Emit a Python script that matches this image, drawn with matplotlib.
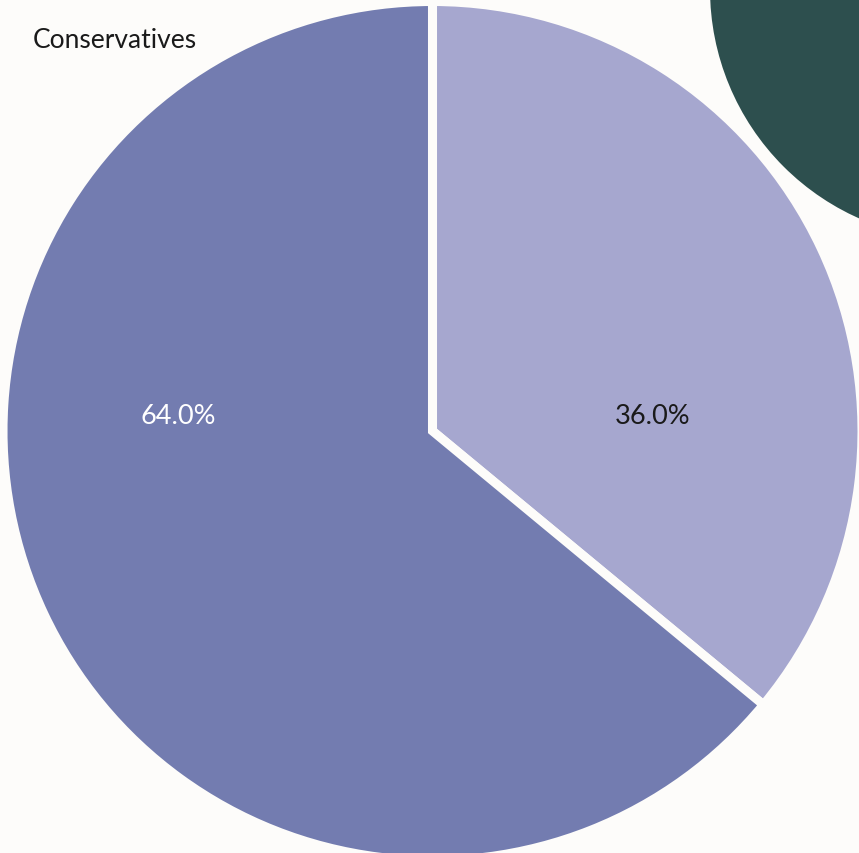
import matplotlib
matplotlib.use("Agg")
import matplotlib.pyplot as plt
from matplotlib.patches import Circle

# Data
categories = ["Yes", "No"]
shares = [36.0, 64.0]
slice_colors = ["#a6a7cf", "#737cb0"]
label_colors = ["#1a1a1a", "#ffffff"]
title = "Conservatives"

BG = "#fdfcfa"
W, H = 859, 854

fig = plt.figure(figsize=(W / 100, H / 100), dpi=100, facecolor=BG)
ax = fig.add_axes([0, 0, 1, 1])
ax.set_facecolor(BG)

# Pie in pixel coordinates (y measured upward)
cx, cy, r = 432.5, H - 432, 429.5
wedges, _ = ax.pie(
    shares,
    colors=slice_colors,
    startangle=90,
    counterclock=False,
    center=(cx, cy),
    radius=r,
    wedgeprops=dict(edgecolor=BG, linewidth=6.5),
)

# Decorative dark circle in the corner
ax.add_patch(Circle((961, H + 10), 251, facecolor="#2d4f4e", edgecolor="none", zorder=0))

# Value labels
label_pos = [(653, H - 417), (178, H - 417)]
for v, (x, y), c in zip(shares, label_pos, label_colors):
    ax.text(x, y, f"{v:.1f}%", ha="center", va="center", color=c,
            fontsize=19.5, family="Lato")

ax.text(33, H - 41, title, ha="left", va="center", color="#1a1a1a",
        fontsize=19, family="Lato")

ax.set_xlim(0, W)
ax.set_ylim(0, H)
ax.set_aspect("equal", adjustable="box")
ax.axis("off")

fig.savefig("out.png", dpi=100, facecolor=BG)
